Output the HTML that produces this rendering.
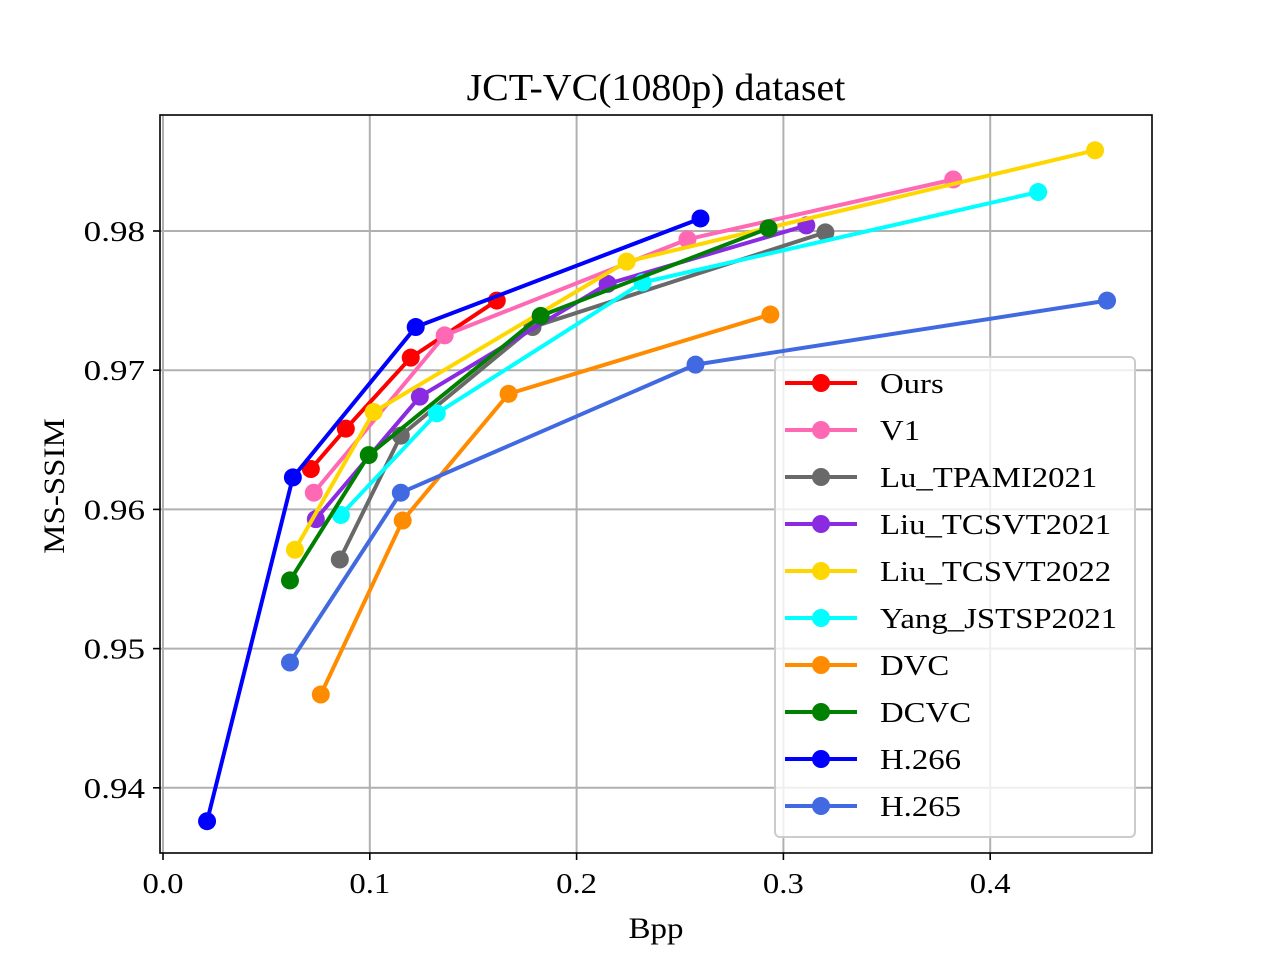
<!DOCTYPE html>
<html><head><meta charset="utf-8"><style>
body{margin:0;background:#fff;}
svg{display:block;font-family:"Liberation Serif",serif;}
</style></head><body>
<svg id="chart" width="1280" height="960" xmlns="http://www.w3.org/2000/svg">
<rect width="1280" height="960" fill="#fff"/>
<g id="grid"></g><g id="series"></g><g id="axes"></g><g id="legend"></g>
</svg>
<script>
const xTicks=[0.0,0.1,0.2,0.3,0.4];
const xTickLabels=["0.0","0.1","0.2","0.3","0.4"];
const yTicks=[0.94,0.95,0.96,0.97,0.98];
const yTickLabels=["0.94","0.95","0.96","0.97","0.98"];
const seriesNames=["Ours","V1","Lu_TPAMI2021","Liu_TCSVT2021","Liu_TCSVT2022","Yang_JSTSP2021","DVC","DCVC","H.266","H.265"];
const seriesColors=["#ff0000","#ff69b4","#696969","#8a2be2","#ffd700","#00ffff","#ff8c00","#008000","#0000ff","#4169e1"];
const oursX=[0.0715,0.0884,0.1198,0.1614], oursY=[0.9629,0.9658,0.9709,0.9750];
const v1X=[0.0729,0.1362,0.2536,0.3821], v1Y=[0.9612,0.9725,0.9794,0.9837];
const luX=[0.0855,0.1150,0.1787,0.3203], luY=[0.9564,0.9653,0.9731,0.9799];
const liu21X=[0.0739,0.1242,0.2150,0.3111], liu21Y=[0.9593,0.9681,0.9762,0.9804];
const liu22X=[0.0638,0.1019,0.2242,0.4507], liu22Y=[0.9571,0.9670,0.9778,0.9858];
const yangX=[0.0860,0.1324,0.2319,0.4232], yangY=[0.9596,0.9669,0.9763,0.9828];
const dvcX=[0.0763,0.1159,0.1671,0.2937], dvcY=[0.9467,0.9592,0.9683,0.9740];
const dcvcX=[0.0614,0.0995,0.1826,0.2928], dcvcY=[0.9549,0.9639,0.9739,0.9802];
const h266X=[0.0213,0.0628,0.1222,0.2599], h266Y=[0.9376,0.9623,0.9731,0.9809];
const h265X=[0.0614,0.1150,0.2575,0.4565], h265Y=[0.9490,0.9612,0.9704,0.9750];
const allX=[oursX,v1X,luX,liu21X,liu22X,yangX,dvcX,dcvcX,h266X,h265X];
const allY=[oursY,v1Y,luY,liu21Y,liu22Y,yangY,dvcY,dcvcY,h266Y,h265Y];

const NS="http://www.w3.org/2000/svg";
const L=160,R=1152,T=115,B=853;
function sx(v){return 163+v*2068;}
function sy(v){return 231-(v-0.98)*13920;}
function mk(tag,attrs,parent){const e=document.createElementNS(NS,tag);for(const k in attrs)e.setAttribute(k,attrs[k]);parent.appendChild(e);return e;}
function widen(t,f){const w=t.getComputedTextLength();t.setAttribute('textLength',(w*f).toFixed(1));t.setAttribute('lengthAdjust','spacingAndGlyphs');}
const grid=document.getElementById('grid'),ser=document.getElementById('series'),ax=document.getElementById('axes'),leg=document.getElementById('legend');
xTicks.forEach((t,i)=>{
  const g=mk('line',{x1:sx(t),x2:sx(t),y1:T,y2:B,stroke:'#b0b0b0','stroke-width':2},grid);
  
  
  mk('line',{x1:sx(t),x2:sx(t),y1:B,y2:B+7,stroke:'#000','stroke-width':1.6},ax);
  const tx=mk('text',{x:sx(t),y:B+40,'font-size':28,'text-anchor':'middle'},ax);tx.textContent=xTickLabels[i];
  
  
  widen(tx,1.17);
});
yTicks.forEach((t,i)=>{
  const g=mk('line',{x1:L,x2:R,y1:sy(t),y2:sy(t),stroke:'#b0b0b0','stroke-width':2},grid);
  
  
  mk('line',{x1:L-7,x2:L,y1:sy(t),y2:sy(t),stroke:'#000','stroke-width':1.6},ax);
  const tx=mk('text',{x:L-15,y:sy(t)+10,'font-size':28,'text-anchor':'end'},ax);tx.textContent=yTickLabels[i];
  
  
  widen(tx,1.25);
});
allX.forEach((xs,s)=>{
  const g=mk('g',{},ser);
  
  
  const pts=xs.map((x,i)=>sx(x)+','+sy(allY[s][i])).join(' ');
  mk('polyline',{points:pts,fill:'none',stroke:seriesColors[s],'stroke-width':4,'stroke-linejoin':'round'},g);
  xs.forEach((x,i)=>{
    const c=mk('circle',{cx:sx(x),cy:sy(allY[s][i]),r:9,fill:seriesColors[s]},g);
    
    
  });
});
const frame=mk('rect',{x:L,y:T,width:R-L,height:B-T,fill:'none',stroke:'#000','stroke-width':1.6},ax);


const title=mk('text',{x:656,y:100,'font-size':38,'text-anchor':'middle'},ax);title.textContent='JCT-VC(1080p) dataset';


widen(title,1.05);
const xl=mk('text',{x:656,y:938,'font-size':30,'text-anchor':'middle'},ax);xl.textContent='Bpp';


widen(xl,1.1);
const yl=mk('text',{x:0,y:0,'font-size':30,'text-anchor':'middle',transform:'translate(64,486) rotate(-90)'},ax);yl.textContent='MS-SSIM';


widen(yl,1.1);
const lb=mk('rect',{x:775,y:357,width:360,height:480,rx:5,fill:'#fff','fill-opacity':0.8,stroke:'#ccc','stroke-width':2},leg);


seriesNames.forEach((n,i)=>{
  const y=383+i*47;
  const g=mk('g',{},leg);
  
  
  mk('line',{x1:785,x2:857,y1:y,y2:y,stroke:seriesColors[i],'stroke-width':4},g);
  mk('circle',{cx:821,cy:y,r:9,fill:seriesColors[i]},g);
  const t=mk('text',{x:880,y:y+10,'font-size':29},g);t.textContent=n;
  widen(t,1.13);
});
</script>
</body></html>
